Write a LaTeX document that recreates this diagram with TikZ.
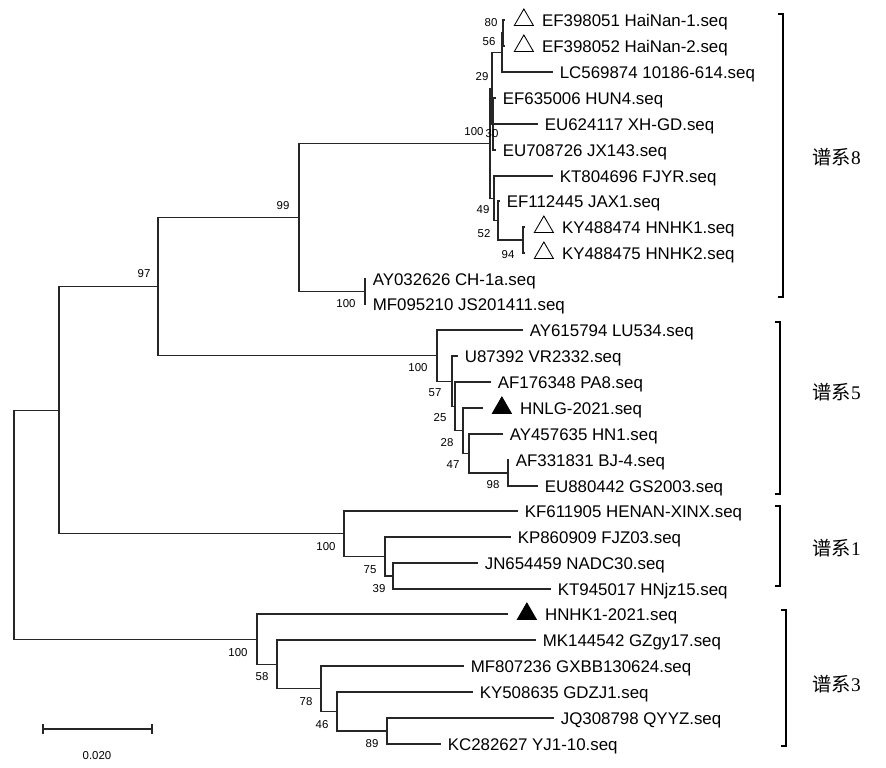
\documentclass[tikz,border=0pt]{standalone}
\usepackage{fontspec}
\setmainfont{Liberation Sans}
\newfontfamily\cjk{Noto Sans CJK SC}
\newfontfamily\numfont{Liberation Serif}
\usetikzlibrary{positioning,shapes.geometric}

\begin{document}
\begin{tikzpicture}[x=0.2mm, y=-0.2mm,
        branch/.style={line width=0.65pt, black!85, line cap=rect},
        seq/.style={font=\fontsize{9.6}{11}\selectfont, inner sep=0pt, text height=7pt, text depth=0pt},
        boot/.style={font=\fontsize{6.5}{7}\selectfont, inner sep=0pt},
        ref/.style={regular polygon, regular polygon sides=3, draw, line width=0.5pt, minimum size=4.4mm, inner sep=0pt},
        ours/.style={ref, fill=black},
        lineage/.style={font=\fontsize{11}{12}\selectfont, anchor=west, inner sep=0pt},
        bracket/.style={line width=0.9pt, black}]

        \useasboundingbox (0,0) rectangle (886,768);

        \coordinate (root) at (14,524.7);
        \coordinate (nA) at (59,410.1);
        \coordinate (n97) at (158,286.5);
        \coordinate (n99) at (299,217.4);
        \coordinate (n100a) at (490,143.25);
        \coordinate (n29) at (492,88.25);
        \coordinate (n56) at (502,52.5);
        \coordinate (n80) at (503,33);
        \coordinate (n30) at (493,124);
        \coordinate (n49) at (494,198.25);
        \coordinate (n52) at (498,220.5);
        \coordinate (n94) at (523,240);
        \coordinate (n100b) at (365,291.5);
        \coordinate (n100c) at (437,355.6);
        \coordinate (n57) at (452,381.2);
        \coordinate (n25) at (455,406.4);
        \coordinate (n28) at (463,430.75);
        \coordinate (n47) at (469,453.5);
        \coordinate (n98) at (508,473);
        \coordinate (n100d) at (344,533.75);
        \coordinate (n75) at (385,556.5);
        \coordinate (n39) at (393,576);
        \coordinate (n100e) at (257,639.2);
        \coordinate (n58) at (277,664.4);
        \coordinate (n78) at (321,688.75);
        \coordinate (n46) at (337,711.5);
        \coordinate (n89) at (387,731);

        \coordinate (l1) at (504,20);
        \coordinate (l2) at (504,46);
        \coordinate (l3) at (552,72);
        \coordinate (l4) at (495,98);
        \coordinate (l5) at (537,124);
        \coordinate (l6) at (495,150);
        \coordinate (l7) at (552,176);
        \coordinate (l8) at (499,201);
        \coordinate (l9) at (524,227);
        \coordinate (l10) at (524,253);
        \coordinate (l11) at (365,279);
        \coordinate (l12) at (365,304);
        \coordinate (l13) at (522,330);
        \coordinate (l14) at (457,356);
        \coordinate (l15) at (490,382);
        \coordinate (l16) at (482,408);
        \coordinate (l17) at (502,434);
        \coordinate (l18) at (508,460);
        \coordinate (l19) at (537,486);
        \coordinate (l20) at (517,511);
        \coordinate (l21) at (510,537);
        \coordinate (l22) at (477,563);
        \coordinate (l23) at (550,589);
        \coordinate (l24) at (507,614);
        \coordinate (l25) at (535,640);
        \coordinate (l26) at (463,666);
        \coordinate (l27) at (472,692);
        \coordinate (l28) at (553,718);
        \coordinate (l29) at (440,744);

        \draw[branch] (root) |- (nA) (root) |- (n100e);
        \draw[branch] (nA) |- (n97) (nA) |- (n100d);
        \draw[branch] (n97) |- (n99) (n97) |- (n100c);
        \draw[branch] (n99) |- (n100a) (n99) |- (n100b);
        \draw[branch] (n100a) |- (n29) (n100a) |- (n49);
        \draw[branch] (n29) |- (n56) (n29) |- (n30);
        \draw[branch] (n56) |- (n80) (n56) |- (l3);
        \draw[branch] (n80) |- (l1) (n80) |- (l2);
        \draw[branch] (n30) |- (l4) (n30) |- (l5) (n30) |- (l6);
        \draw[branch] (n49) |- (l7) (n49) |- (n52);
        \draw[branch] (n52) |- (l8) (n52) |- (n94);
        \draw[branch] (n94) |- (l9) (n94) |- (l10);
        \draw[branch] (n100b) |- (l11) (n100b) |- (l12);
        \draw[branch] (n100c) |- (l13) (n100c) |- (n57);
        \draw[branch] (n57) |- (l14) (n57) |- (n25);
        \draw[branch] (n25) |- (l15) (n25) |- (n28);
        \draw[branch] (n28) |- (l16) (n28) |- (n47);
        \draw[branch] (n47) |- (l17) (n47) |- (n98);
        \draw[branch] (n98) |- (l18) (n98) |- (l19);
        \draw[branch] (n100d) |- (l20) (n100d) |- (n75);
        \draw[branch] (n75) |- (l21) (n75) |- (n39);
        \draw[branch] (n39) |- (l22) (n39) |- (l23);
        \draw[branch] (n100e) |- (l24) (n100e) |- (n58);
        \draw[branch] (n58) |- (l25) (n58) |- (n78);
        \draw[branch] (n78) |- (l26) (n78) |- (n46);
        \draw[branch] (n46) |- (l27) (n46) |- (n89);
        \draw[branch] (n89) |- (l28) (n89) |- (l29);

        \node[ref, right=2.6mm of l1] (t1) {};
        \node[seq, right=2.2mm of t1] (s1) {EF398051 HaiNan-1.seq};
        \node[ref, right=2.6mm of l2] (t2) {};
        \node[seq, right=2.2mm of t2] (s2) {EF398052 HaiNan-2.seq};
        \node[seq, right=1.5mm of l3] (s3) {LC569874 10186-614.seq};
        \node[seq, right=1.5mm of l4] (s4) {EF635006 HUN4.seq};
        \node[seq, right=1.5mm of l5] (s5) {EU624117 XH-GD.seq};
        \node[seq, right=1.5mm of l6] (s6) {EU708726 JX143.seq};
        \node[seq, right=1.5mm of l7] (s7) {KT804696 FJYR.seq};
        \node[seq, right=1.5mm of l8] (s8) {EF112445 JAX1.seq};
        \node[ref, right=2.6mm of l9] (t9) {};
        \node[seq, right=2.2mm of t9] (s9) {KY488474 HNHK1.seq};
        \node[ref, right=2.6mm of l10] (t10) {};
        \node[seq, right=2.2mm of t10] (s10) {KY488475 HNHK2.seq};
        \node[seq, right=1.5mm of l11] (s11) {AY032626 CH-1a.seq};
        \node[seq, right=1.5mm of l12] (s12) {MF095210 JS201411.seq};
        \node[seq, right=1.5mm of l13] (s13) {AY615794 LU534.seq};
        \node[seq, right=1.5mm of l14] (s14) {U87392 VR2332.seq};
        \node[seq, right=1.5mm of l15] (s15) {AF176348 PA8.seq};
        \node[ours, right=2.6mm of l16] (t16) {};
        \node[seq, right=2.2mm of t16] (s16) {HNLG-2021.seq};
        \node[seq, right=1.5mm of l17] (s17) {AY457635 HN1.seq};
        \node[seq, right=1.5mm of l18] (s18) {AF331831 BJ-4.seq};
        \node[seq, right=1.5mm of l19] (s19) {EU880442 GS2003.seq};
        \node[seq, right=1.5mm of l20] (s20) {KF611905 HENAN-XINX.seq};
        \node[seq, right=1.5mm of l21] (s21) {KP860909 FJZ03.seq};
        \node[seq, right=1.5mm of l22] (s22) {JN654459 NADC30.seq};
        \node[seq, right=1.5mm of l23] (s23) {KT945017 HNjz15.seq};
        \node[ours, right=2.6mm of l24] (t24) {};
        \node[seq, right=2.2mm of t24] (s24) {HNHK1-2021.seq};
        \node[seq, right=1.5mm of l25] (s25) {MK144542 GZgy17.seq};
        \node[seq, right=1.5mm of l26] (s26) {MF807236 GXBB130624.seq};
        \node[seq, right=1.5mm of l27] (s27) {KY508635 GDZJ1.seq};
        \node[seq, right=1.5mm of l28] (s28) {JQ308798 QYYZ.seq};
        \node[seq, right=1.5mm of l29] (s29) {KC282627 YJ1-10.seq};

        \node[boot] (b80) at (491,23) {80};
        \node[boot] (b56) at (489,42) {56};
        \node[boot] (b29) at (482,77) {29};
        \node[boot] (b100a) at (474,132) {100};
        \node[boot] (b30) at (492,134) {30};
        \node[boot] (b49) at (483,210) {49};
        \node[boot] (b52) at (484,234) {52};
        \node[boot] (b94) at (508,255) {94};
        \node[boot] (b99) at (283,206) {99};
        \node[boot] (b97) at (144,274) {97};
        \node[boot] (b100b) at (346,304) {100};
        \node[boot] (b100c) at (418,368) {100};
        \node[boot] (b57) at (435,393) {57};
        \node[boot] (b25) at (440,418) {25};
        \node[boot] (b28) at (447,443) {28};
        \node[boot] (b47) at (453,465) {47};
        \node[boot] (b98) at (493,485) {98};
        \node[boot] (b100d) at (326,547) {100};
        \node[boot] (b75) at (370,570) {75};
        \node[boot] (b39) at (379,589) {39};
        \node[boot] (b100e) at (238,653) {100};
        \node[boot] (b58) at (262,677) {58};
        \node[boot] (b78) at (306,702) {78};
        \node[boot] (b46) at (322,725) {46};
        \node[boot] (b89) at (372,744) {89};

        \draw[bracket] (778,14) -- (783,14) -- (783,297) -- (778,297);
        \draw[bracket] (775,322) -- (780,322) -- (780,494) -- (775,494);
        \draw[bracket] (775,506) -- (780,506) -- (780,586) -- (775,586);
        \draw[bracket] (781,610) -- (786,610) -- (786,746) -- (781,746);
        \node[lineage] (g8) at (812,157) {{\cjk 谱系}{\numfont 8}};
        \node[lineage] (g5) at (812,392) {{\cjk 谱系}{\numfont 5}};
        \node[lineage] (g1) at (812,548) {{\cjk 谱系}{\numfont 1}};
        \node[lineage] (g3) at (812,684) {{\cjk 谱系}{\numfont 3}};

        \coordinate (sb0) at (43,729);
        \coordinate (sb1) at (152,729);
        \draw[branch] (sb0) -- (sb1) (sb0) ++(0,-4) -- ++(0,8) (sb1) ++(0,-4) -- ++(0,8);
        \node[boot] (scale) at (97,756) {0.020};

    \end{tikzpicture}
\end{document}
